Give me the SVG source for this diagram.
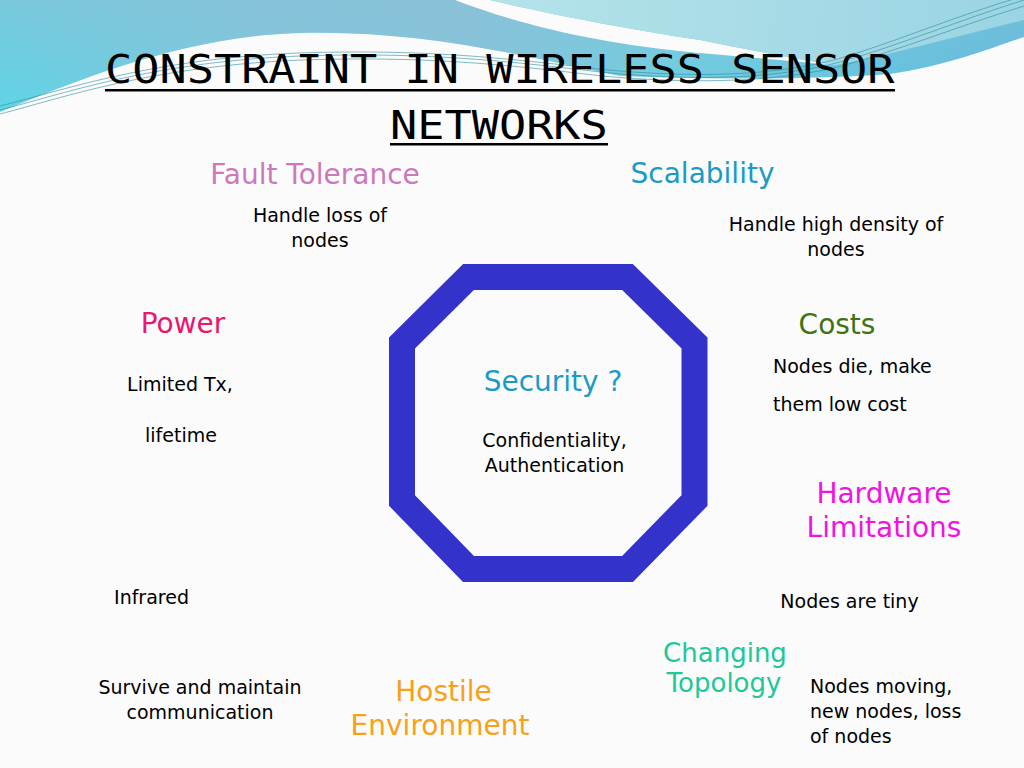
<svg xmlns="http://www.w3.org/2000/svg" width="1024" height="768" viewBox="0 0 1024 768">
  <defs>
    <linearGradient id="gMain" gradientUnits="userSpaceOnUse" x1="0" y1="0" x2="1024" y2="0">
      <stop offset="0" stop-color="#5FD5E6"/>
      <stop offset="0.25" stop-color="#7FC8DE"/>
      <stop offset="0.45" stop-color="#86C4DB"/>
      <stop offset="0.65" stop-color="#6CD0E3"/>
      <stop offset="1" stop-color="#57BDDD"/>
    </linearGradient>
    <linearGradient id="gTop" gradientUnits="userSpaceOnUse" x1="0" y1="0" x2="0" y2="112">
      <stop offset="0" stop-color="#8BBFD6" stop-opacity="0.6"/>
      <stop offset="1" stop-color="#8BBFD6" stop-opacity="0"/>
    </linearGradient>
    <linearGradient id="gLight" gradientUnits="userSpaceOnUse" x1="490" y1="0" x2="1024" y2="40">
      <stop offset="0" stop-color="#B4E3EA"/>
      <stop offset="1" stop-color="#9BD4E3"/>
    </linearGradient>
    <style>
      .title { font-family: "DejaVu Sans Mono", "Liberation Mono", monospace; font-size: 39px; fill: #000; }
      .head { font-family: "DejaVu Sans", "Liberation Sans", sans-serif; font-size: 28px; }
      .head26 { font-size: 26px; }
      .body { font-family: "DejaVu Sans", "Liberation Sans", sans-serif; font-size: 19px; fill: #000; }
      .mid { text-anchor: middle; }
      .wave { fill: none; stroke: #2A8C9E; stroke-width: 0.7; opacity: 0.85; }
    </style>
  </defs>

  <g id="background">
    <rect x="0" y="0" width="1024" height="768" fill="#FBFBFB"/>
    <path d="M0,0 H1024 V37 C990,48 950,65 890,74 C820,79 720,80 620,76 C520,55 420,30 300,33 C190,36 90,75 0,112 Z" fill="url(#gMain)"/>
    <path d="M0,0 H1024 V37 C990,48 950,65 890,74 C820,79 720,80 620,76 C520,55 420,30 300,33 C190,36 90,75 0,112 Z" fill="url(#gTop)"/>
    <path d="M455,0 C520,25 600,44 700,53 C760,58 800,62 835,65 C790,58 740,48 700,40 C620,28 540,12 490,0 Z" fill="#FBFBFB"/>
    <path d="M490,0 H1024 V20 C960,35 890,55 835,65 C790,58 740,48 700,40 C620,28 540,12 490,0 Z" fill="url(#gLight)"/>
    <path class="wave" d="M0,110 C60,95 150,62 300,56 C420,52 500,60 600,72 C700,82 780,78 840,62 C900,45 960,20 1024,0"/>
    <path class="wave" d="M0,114 C62,98 152,66 302,60 C422,56 502,64 602,76 C702,85 782,81 842,66 C902,49 962,25 1024,6"/>
    <path class="wave" d="M0,106 C58,92 148,59 298,53 C418,49 498,57 598,69 C698,79 778,75 838,59 C898,41 958,15 1024,-4"/>
  </g>

  <g id="title">
    <text class="title" transform="matrix(1.16 0 0 1 105 83)">CONSTRAINT IN WIRELESS SENSOR</text>
    <rect x="105" y="89" width="790" height="2.5" fill="#000"/>
    <text class="title" transform="matrix(1.16 0 0 1 390 139)">NETWORKS</text>
    <rect x="390" y="143" width="218" height="2.5" fill="#000"/>
  </g>

  <g id="connectors"></g>

  <g id="security">
    <polygon points="468.5,277 627.5,277 694.5,343 694.5,500.5 627.5,569 468.5,569 402,500.5 402,343" fill="none" stroke="#3333CC" stroke-width="26" stroke-linejoin="miter"/>
    <text class="head mid" x="553" y="391" fill="#1B9BC2">Security ?</text>
    <text class="body mid" x="554.5" y="447">Confidentiality,</text>
    <text class="body mid" x="554.5" y="472">Authentication</text>
  </g>

  <g id="fault-tolerance">
    <text class="head mid" x="315" y="184" fill="#CC79BA">Fault Tolerance</text>
    <text class="body mid" x="320" y="222">Handle loss of</text>
    <text class="body mid" x="320" y="247">nodes</text>
  </g>

  <g id="scalability">
    <text class="head mid" x="702.5" y="183" fill="#1B9BC2">Scalability</text>
    <text class="body mid" x="836" y="231">Handle high density of</text>
    <text class="body mid" x="836" y="256">nodes</text>
  </g>

  <g id="power">
    <text class="head mid" x="183" y="333" fill="#E8186A">Power</text>
    <text class="body mid" x="180" y="391">Limited Tx,</text>
    <text class="body mid" x="181" y="442">lifetime</text>
  </g>

  <g id="costs">
    <text class="head mid" x="837" y="334" fill="#3E7313">Costs</text>
    <text class="body" x="773" y="373">Nodes die, make</text>
    <text class="body" x="773" y="411">them low cost</text>
  </g>

  <g id="hardware">
    <text class="head mid" x="884" y="503" fill="#F014E0">Hardware</text>
    <text class="head mid" x="884" y="537" fill="#F014E0">Limitations</text>
    <text class="body mid" x="849.5" y="608">Nodes are tiny</text>
  </g>

  <g id="infrared">
    <text class="body mid" x="151.5" y="604">Infrared</text>
  </g>

  <g id="changing-topology">
    <text class="head head26 mid" x="725" y="662" fill="#20C897">Changing</text>
    <text class="head head26 mid" x="724" y="692" fill="#20C897">Topology</text>
    <text class="body" x="810" y="693">Nodes moving,</text>
    <text class="body" x="810" y="718">new nodes, loss</text>
    <text class="body" x="810" y="743">of nodes</text>
  </g>

  <g id="hostile-environment">
    <text class="body mid" x="200" y="694">Survive and maintain</text>
    <text class="body mid" x="200" y="719">communication</text>
    <text class="head mid" x="443.5" y="701" fill="#F7A11A">Hostile</text>
    <text class="head mid" x="440" y="735" fill="#F7A11A">Environment</text>
  </g>
</svg>
